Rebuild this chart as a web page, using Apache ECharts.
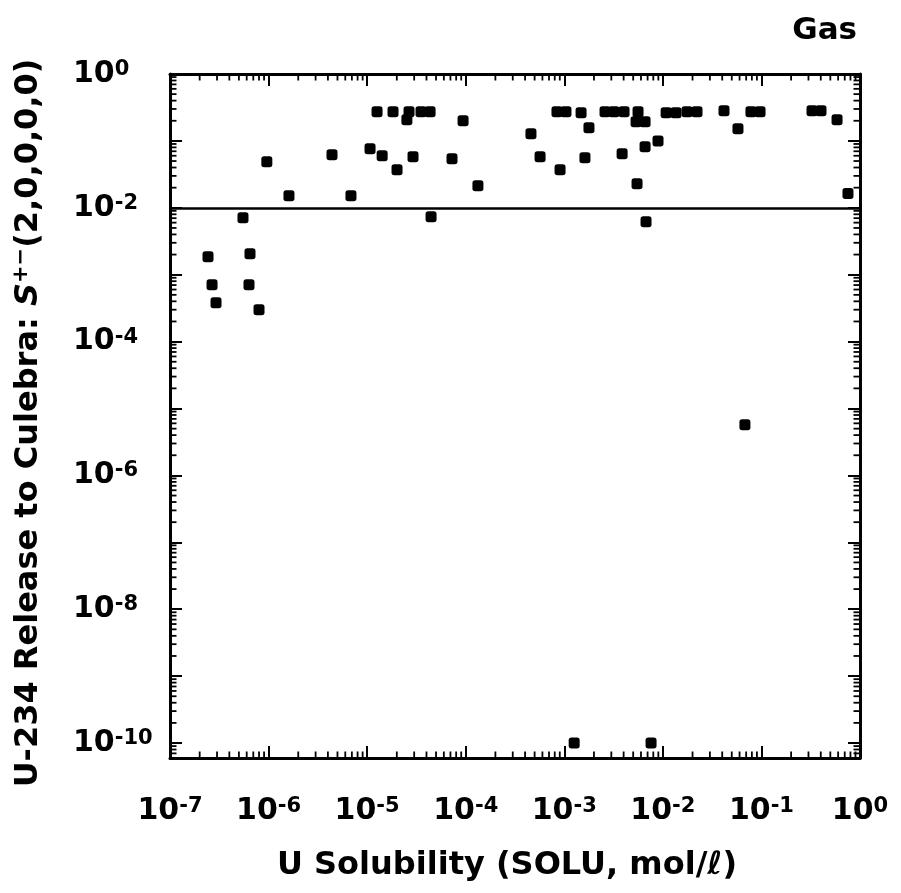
<!DOCTYPE html>
<html>
<head>
<meta charset="utf-8">
<script src="https://cdn.jsdelivr.net/npm/echarts@6/dist/echarts.min.js"></script>
<style>html,body{margin:0;padding:0;background:#fff;}#chart{width:901px;height:893px;}</style>
</head>
<body>
<div id="chart"></div>
<script>
// U solubility (mol/l) for each sampled run
const solubility = [2.43e-7, 2.67e-7, 2.93e-7, 5.5e-7, 6.48e-7, 6.33e-7, 8.0e-7, 9.6e-7, 1.61e-6, 4.4e-6,
  6.85e-6, 1.07e-5, 1.26e-5, 1.42e-5, 1.83e-5, 2.01e-5, 2.53e-5, 2.66e-5, 2.92e-5, 3.52e-5,
  4.35e-5, 4.45e-5, 7.26e-5, 9.4e-5, 1.33e-4, 4.59e-4, 5.68e-4, 8.43e-4, 1.04e-3, 9.06e-4,
  1.48e-3, 1.78e-3, 1.62e-3, 2.59e-3, 3.19e-3, 4.04e-3, 3.86e-3, 5.47e-3, 5.6e-3, 5.35e-3,
  6.6e-3, 6.6e-3, 6.75e-3, 8.93e-3, 1.08e-2, 1.36e-2, 1.76e-2, 2.22e-2, 4.17e-2, 5.78e-2,
  7.83e-2, 9.68e-2, 0.326, 0.402, 0.585, 0.755, 6.8e-2, 1.26e-3, 7.59e-3];
// U-234 release to Culebra for the same runs
const release = [1.86e-3, 7.1e-4, 3.8e-4, 7.1e-3, 2.06e-3, 7.1e-4, 3.0e-4, 4.89e-2, 1.52e-2, 6.2e-2,
  1.52e-2, 7.65e-2, 0.273, 6.0e-2, 0.273, 3.71e-2, 0.207, 0.273, 5.8e-2, 0.273,
  0.273, 7.36e-3, 5.42e-2, 0.2, 2.14e-2, 0.128, 5.8e-2, 0.273, 0.273, 3.71e-2,
  0.264, 0.157, 5.6e-2, 0.273, 0.273, 0.273, 6.44e-2, 2.29e-2, 0.273, 0.194,
  0.194, 8.2e-2, 6.2e-3, 0.1, 0.264, 0.264, 0.273, 0.273, 0.283, 0.152,
  0.273, 0.273, 0.283, 0.283, 0.207, 1.63e-2, 5.7e-6, 1e-10, 1e-10];
// reference line
const referenceLevel = [1e-2];
// axis ranges and tick label exponents
const xRange = [1e-7, 1];
const yRange = [5.97e-11, 1];
const xLabelExps = [-7, -6, -5, -4, -3, -2, -1, 0];
const yLabelExps = [-10, -8, -6, -4, -2, 0];
const yMajorExps = [-10, -9, -8, -7, -6, -5, -4, -3, -2, -1, 0];
const minorMultipliers = [2, 3, 4, 5, 6, 7, 8, 9];

const L = function (v) { return Math.log(v) / Math.LN10; };
const FONT = 'DejaVu Sans';

function minorTicks(lo, hi) {
  const out = [];
  for (let e = Math.floor(lo); e < hi; e++) {
    for (let k = 0; k < minorMultipliers.length; k++) {
      const v = e + L(minorMultipliers[k]);
      if (v > lo && v < hi) out.push(v);
    }
  }
  return out;
}
const xMin = L(xRange[0]), xMax = L(xRange[1]);
const yMin = L(yRange[0]), yMax = L(yRange[1]);
const xMinor = minorTicks(xMin, xMax);
const yMinor = minorTicks(yMin, yMax);

const rich = {
  b: { fontFamily: FONT, fontWeight: 'bold', fontSize: 30, lineHeight: 30, color: '#000', padding: [6, 0, 0, 0], verticalAlign: 'bottom' },
  s: { fontFamily: FONT, fontWeight: 'bold', fontSize: 21, lineHeight: 22, color: '#000', verticalAlign: 'top' }
};
function powLabel(v) {
  const e = Math.round(v);
  return '{b|10}{s|' + (e < 0 ? '-' + (-e) : e) + '}';
}
const axLine = { show: true, onZero: false, lineStyle: { color: '#000', width: 3 } };
const majorTick = { show: true, inside: true, length: 12, lineStyle: { color: '#000', width: 2 } };
const MINOR_LEN = 6.5;
const MINOR_W = 1.8;

function xAx(pos, labels) {
  return {
    type: 'value', min: xMin, max: xMax, position: pos,
    axisLine: axLine,
    axisTick: Object.assign({}, majorTick, { customValues: xLabelExps }),
    axisLabel: labels ? { show: true, customValues: xLabelExps, margin: 38, formatter: powLabel, rich } : { show: false },
    splitLine: { show: false }
  };
}
function yAx(pos, labels) {
  return {
    type: 'value', min: yMin, max: yMax, position: pos,
    axisLine: axLine,
    axisTick: Object.assign({}, majorTick, { customValues: yMajorExps }),
    axisLabel: labels ? { show: true, customValues: yLabelExps, margin: 97, align: 'left', formatter: powLabel, rich } : { show: false },
    splitLine: { show: false }
  };
}

const xAxes = [xAx('bottom', true), xAx('top', false)];
xAxes[0].name = 'U Solubility (SOLU, mol/ℓ)';
xAxes[0].nameLocation = 'middle';
xAxes[0].nameGap = 92;
xAxes[0].nameTextStyle = { fontFamily: FONT, fontWeight: 'bold', fontSize: 32, color: '#000', padding: [0, 16, 0, 0] };

const yAxes = [yAx('left', true), yAx('right', false)];
yAxes[0].name = '{n|U-234 Release to Culebra: }{i|S}{p|+−}{n|(2,0,0,0,0)}';
yAxes[0].nameLocation = 'middle';
yAxes[0].nameRotate = 90;
yAxes[0].nameGap = 125;
yAxes[0].nameTextStyle = {
  padding: [0, 14, 0, 0],
  rich: {
    n: { fontFamily: FONT, fontWeight: 'bold', fontSize: 32, color: '#000', lineHeight: 34, verticalAlign: 'bottom' },
    i: { fontFamily: FONT, fontWeight: 'bold', fontStyle: 'italic', fontSize: 32, color: '#000', lineHeight: 34, verticalAlign: 'bottom' },
    p: { fontFamily: FONT, fontWeight: 'bold', fontSize: 21, color: '#000', lineHeight: 20, verticalAlign: 'top' }
  }
};

const points = solubility.map((x, i) => [L(x), L(release[i])]);

// minor log ticks drawn as thin rect symbols sitting just inside each frame edge
function tickSeries(data, size, offset) {
  return {
    type: 'scatter', xAxisIndex: 0, yAxisIndex: 0, silent: true, clip: false,
    symbol: 'rect', symbolSize: size, symbolOffset: offset,
    itemStyle: { color: '#000', opacity: 1 },
    data: data, z: 3
  };
}

const chart = echarts.init(document.getElementById('chart'), null, { renderer: 'canvas' });
chart.setOption({
  animation: false,
  backgroundColor: '#fff',
  title: { text: 'Gas', right: 39, top: 10, textStyle: { fontFamily: FONT, fontWeight: 'bold', fontSize: 31, color: '#000' } },
  grid: { left: 170, right: 41, top: 74, bottom: 135, containLabel: false },
  xAxis: xAxes,
  yAxis: yAxes,
  series: [
    tickSeries(xMinor.map(v => [v, yMin]), [MINOR_W, MINOR_LEN], [0, -MINOR_LEN / 2]),
    tickSeries(xMinor.map(v => [v, yMax]), [MINOR_W, MINOR_LEN], [0, MINOR_LEN / 2]),
    tickSeries(yMinor.map(v => [xMin, v]), [MINOR_LEN, MINOR_W], [MINOR_LEN / 2, 0]),
    tickSeries(yMinor.map(v => [xMax, v]), [MINOR_LEN, MINOR_W], [-MINOR_LEN / 2, 0]),
    {
      type: 'scatter',
      xAxisIndex: 0, yAxisIndex: 0,
      symbol: 'roundRect', symbolSize: 11,
      itemStyle: { color: '#000', opacity: 1 },
      data: points,
      markLine: {
        silent: true, symbol: 'none', label: { show: false },
        lineStyle: { color: '#000', width: 2.5, type: 'solid', opacity: 1 },
        data: referenceLevel.map(v => ({ yAxis: L(v) }))
      }
    }
  ]
});
</script>
</body>
</html>
